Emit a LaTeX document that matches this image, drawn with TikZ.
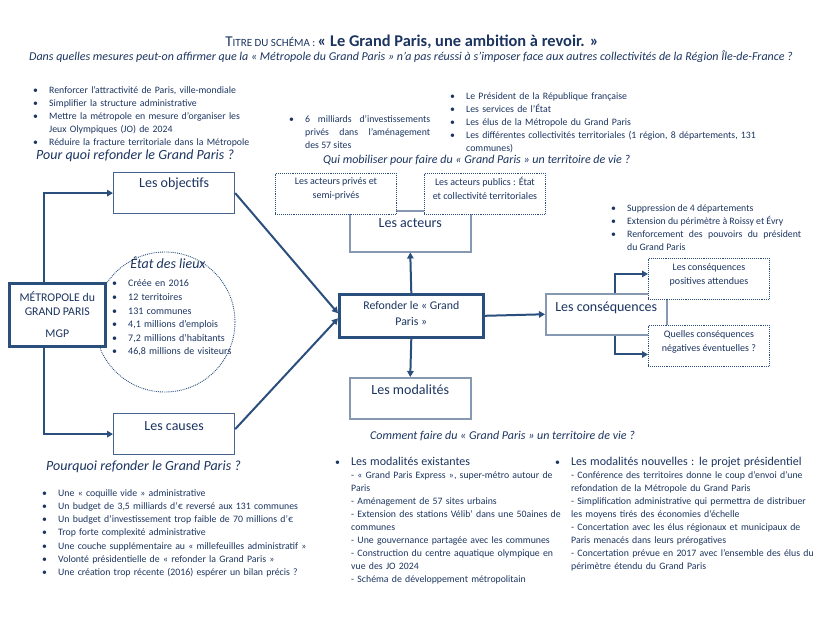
\documentclass[tikz,border=0pt]{standalone}
\usepackage{fontspec}
\setmainfont{Carlito}
\usepackage{enumitem}
\setlist[itemize]{label=\textbullet, nosep, leftmargin=16pt, labelwidth=16pt, labelsep=0pt, align=left}
\usetikzlibrary{positioning, arrows.meta}
\definecolor{navy}{HTML}{1B3460}
\definecolor{arrowblue}{HTML}{2A4F7D}
\definecolor{lightframe}{HTML}{8798B2}
\definecolor{midframe}{HTML}{48648C}
\tikzset{
	listtext/.style={text=navy, inner sep=0pt, anchor=north west, align=left, font=\fontsize{9.8}{13}\selectfont}
}
\tikzset{
	bigbox/.style={draw=midframe, line width=1.2pt, fill=white, minimum width=121pt, minimum height=41pt, inner sep=0pt, anchor=north west},
	lightbox/.style={bigbox, draw=lightframe, line width=1.5pt},
	dotbox/.style={draw=arrowblue, densely dotted, line width=0.9pt, fill=white, minimum width=121pt, minimum height=41pt, inner sep=0pt, anchor=north west},
	thickbox/.style={draw=arrowblue, line width=2.6pt, fill=white, inner sep=0pt, anchor=north west, text=navy, align=center},
	boxtitle/.style={text=navy, inner sep=0pt, font=\fontsize{14}{16}\selectfont},
	smalltext/.style={text=navy, inner sep=0pt, align=center, font=\fontsize{10}{14}\selectfont},
	question/.style={text=navy, inner sep=0pt, anchor=west, font=\fontsize{12}{14}\selectfont\itshape},
	link/.style={draw=arrowblue, line width=2pt, -{Triangle[length=6pt,width=6.5pt]}}
}

\begin{document}
\begin{tikzpicture}[x=1pt, y=-1pt]
  \useasboundingbox (0,0) rectangle (822,619);

  % title
  \node[text=navy, inner sep=0pt] (title) at (412,42) {{\fontsize{15}{16}\selectfont T}{\fontsize{11}{16}\selectfont ITRE DU SCHÉMA :} {\fontsize{16.4}{16}\selectfont\bfseries « Le Grand Paris, une ambition à revoir. »}};
  \node[text=navy, inner sep=0pt, font=\fontsize{12}{13}\selectfont\itshape] (subtitle) at (411,57) {Dans quelles mesures peut-on affirmer que la « Métropole du Grand Paris » n’a pas réussi à s’imposer face aux autres collectivités de la Région Île-de-France ?};

  % etat des lieux
  \node[draw=arrowblue, densely dotted, line width=0.9pt, circle, minimum size=140pt, inner sep=0pt] (etat) at (165,322) {};
  \node[text=navy, inner sep=0pt, font=\fontsize{14}{16}\selectfont\itshape] (etatt) at (168,263) {État des lieux};
  \node[listtext, text width=125pt, font=\fontsize{10}{13.6}\selectfont] (etatl) at (112,273) {\begin{itemize}
    \item\strut Créée en 2016
    \item 12 territoires
    \item 131 communes
    \item 4,1 millions d’emplois
    \item 7,2 millions d’habitants
    \item 46,8 millions de visiteurs
  \end{itemize}};

  % boxes
  \node[thickbox, minimum width=96pt, minimum height=63pt, font=\fontsize{11.8}{14}\selectfont] (mgp) at (8,282) {MÉTROPOLE du\\GRAND PARIS\\[8pt]MGP};
  \node[bigbox] (obj) at (113,172) {};
  \node[boxtitle, below=6pt of obj.north] (objt) {Les objectifs};
  \node[bigbox] (cau) at (113,413) {};
  \node[boxtitle, below=8pt of cau.north] (caut) {Les causes};
  \node[lightbox] (act) at (349,210) {};
  \node[boxtitle, below=8pt of act.north] (actt) {Les acteurs};
  \node[lightbox] (mod) at (349,377) {};
  \node[boxtitle, below=8pt of mod.north] (modt) {Les modalités};
  \node[lightbox] (cons) at (545,293) {};
  \node[boxtitle, below=9pt of cons.north] (const) {Les conséquences};
  \node[thickbox, minimum width=144pt, minimum height=43pt, text depth=5pt, font=\fontsize{11.8}{16}\selectfont] (ref) at (338,293) {Refonder le « Grand\\Paris »};

  % dotted boxes
  \node[dotbox] (priv) at (275,173) {};
  \node[smalltext, below=4pt of priv.north] (privt) {Les acteurs privés et\\semi-privés};
  \node[dotbox] (pub) at (424,173) {};
  \node[smalltext, below=4pt of pub.north] (pubt) {Les acteurs publics : État\\et collectivité territoriales};
  \node[dotbox] (pos) at (648,258) {};
  \node[smalltext, below=5pt of pos.north] (post) {Les conséquences\\positives attendues};
  \node[dotbox] (neg) at (648,325) {};
  \node[smalltext, below=5pt of neg.north] (negt) {Quelles conséquences\\négatives éventuelles ?};

  % connectors
  \draw[link] ([xshift=36pt]mgp.north west) |- (obj.west);
  \draw[link] ([xshift=36pt]mgp.south west) |- (cau.west);
  \draw[link] (obj.east) -- ([yshift=2.5pt]ref.west);
  \draw[link] ([yshift=5pt]cau.east) -- ([yshift=-2.5pt]ref.west);
  \draw[link] (ref.north) -- (act.south);
  \draw[link] (ref.south) -- (mod.north);
  \draw[link] (ref.east) -- (cons.west);
  \draw[link] ([xshift=8.5pt]cons.north) |- ([yshift=5pt]pos.west);
  \draw[link] ([xshift=8.5pt]cons.south) |- ([yshift=-8.5pt]neg.west);

  % lists and questions
  \node[listtext, text width=260pt] (objl) at (33,80.5) {\begin{itemize}
    \item\strut Renforcer l’attractivité de Paris, ville-mondiale
    \item Simplifier la structure administrative
    \item Mettre la métropole en mesure d’organiser les\\ Jeux Olympiques (JO) de 2024
    \item Réduire la fracture territoriale dans la Métropole
  \end{itemize}};
  \node[question, font=\fontsize{14}{16}\selectfont\itshape] (qobj) at (36,156) {Pour quoi refonder le Grand Paris ?};

  \node[listtext, text width=141pt, align=justify] (privl) at (289,109.5) {\begin{itemize}
    \item\strut 6 milliards d’investissements\linebreak privés dans l’aménagement\linebreak des 57 sites
  \end{itemize}};
  \node[listtext, text width=372pt] (publ) at (450,86) {\begin{itemize}
    \item\strut Le Président de la République française
    \item Les services de l’État
    \item Les élus de la Métropole du Grand Paris
    \item Les différentes collectivités territoriales (1 région, 8 départements, 131\\ communes)
  \end{itemize}};
  \node[question] (qact) at (323,160.5) {Qui mobiliser pour faire du « Grand Paris » un territoire de vie ?};

  \node[listtext, text width=190pt, align=justify] (consl) at (611,198.5) {\begin{itemize}
    \item\strut Suppression de 4 départements
    \item Extension du périmètre à Roissy et Évry
    \item Renforcement des pouvoirs du président\linebreak du Grand Paris
  \end{itemize}};

  \node[question] (qmod) at (370,436) {Comment faire du « Grand Paris » un territoire de vie ?};
  \node[question, font=\fontsize{14}{16}\selectfont\itshape] (qcau) at (46,467) {Pourquoi refonder le Grand Paris ?};

  \node[listtext, text width=300pt, font=\fontsize{9.8}{13.3}\selectfont] (caul) at (42,482.5) {\begin{itemize}
    \item\strut Une « coquille vide » administrative
    \item Un budget de 3,5 milliards d’€ reversé aux 131 communes
    \item Un budget d’investissement trop faible de 70 millions d’€
    \item Trop forte complexité administrative
    \item Une couche supplémentaire au « millefeuilles administratif »
    \item Volonté présidentielle de « refonder la Grand Paris »
    \item Une création trop récente (2016) espérer un bilan précis ?
  \end{itemize}};

  \node[listtext, text width=240pt] (modl) at (335,452.5) {\begin{itemize}
    \item\strut{\fontsize{12}{13}\selectfont Les modalités existantes}\\
    - « Grand Paris Express », super-métro autour de\\ Paris\\
    - Aménagement de 57 sites urbains\\
    - Extension des stations Vélib’ dans une 50aines de\\ communes\\
    - Une gouvernance partagée avec les communes\\
    - Construction du centre aquatique olympique en\\ vue des JO 2024\\
    - Schéma de développement métropolitain
  \end{itemize}};
  \node[listtext, text width=267pt] (newl) at (555,452.5) {\begin{itemize}
    \item\strut{\fontsize{12}{13}\selectfont Les modalités nouvelles : le projet présidentiel}\\
    - Conférence des territoires donne le coup d’envoi d’une\\ refondation de la Métropole du Grand Paris\\
    - Simplification administrative qui permettra de distribuer\\ les moyens tirés des économies d’échelle\\
    - Concertation avec les élus régionaux et municipaux de\\ Paris menacés dans leurs prérogatives\\
    - Concertation prévue en 2017 avec l’ensemble des élus du\\ périmètre étendu du Grand Paris
  \end{itemize}};
\end{tikzpicture}
\end{document}
